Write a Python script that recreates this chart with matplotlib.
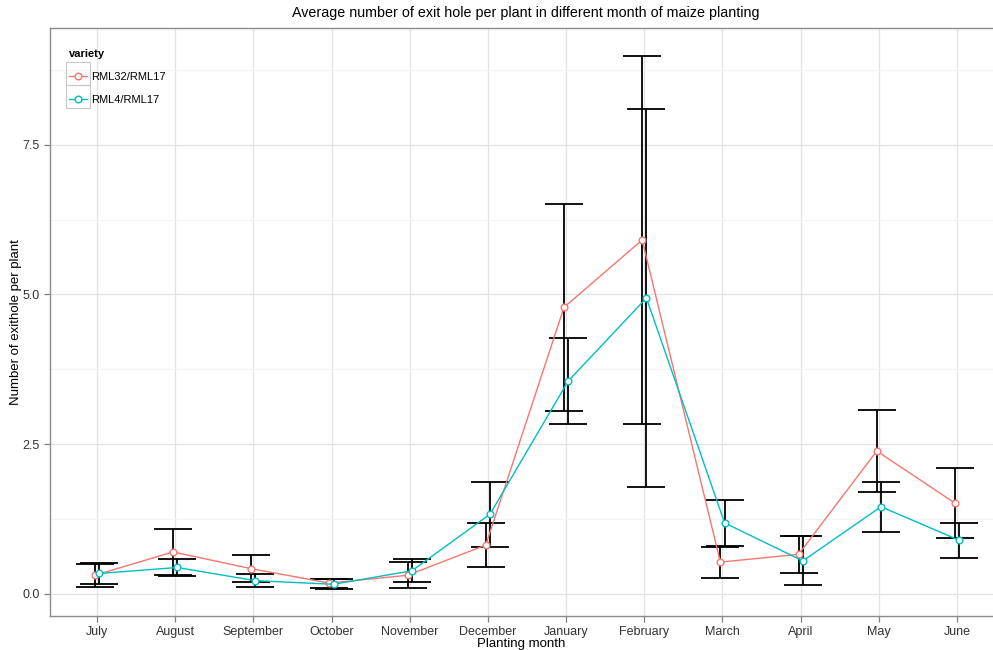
"""Average exit holes per plant by planting month (two maize varieties)"""

import numpy as np
import matplotlib
matplotlib.use("Agg")
import matplotlib.pyplot as plt
from matplotlib.patches import Rectangle

plt.rcParams['font.family'] = ['Liberation Sans', 'DejaVu Sans']

months = ["July", "August", "September", "October", "November", "December",
          "January", "February", "March", "April", "May", "June"]

# RML32/RML17
rml32_mean = [0.31, 0.70, 0.42, 0.18, 0.31, 0.815, 4.785, 5.91, 0.53, 0.66, 2.385, 1.515]
rml32_se = [0.19, 0.39, 0.23, 0.075, 0.22, 0.365, 1.725, 3.07, 0.26, 0.31, 0.685, 0.59]

# RML4/RML17
rml4_mean = [0.34, 0.44, 0.22, 0.16, 0.385, 1.33, 3.555, 4.94, 1.185, 0.55, 1.455, 0.895]
rml4_se = [0.17, 0.14, 0.11, 0.083, 0.19, 0.54, 0.715, 3.15, 0.385, 0.41, 0.415, 0.295]

RED = "#F8766D"
CYAN = "#00BFC4"
DODGE = 0.027

fig = plt.figure(figsize=(9.93, 6.5), dpi=100)
ax = fig.add_axes([50 / 993, 1 - 616 / 650, (1004 - 50) / 993, (616 - 28) / 650])

x = np.arange(len(months))

for mean, se, color, label, shift in [(rml32_mean, rml32_se, RED, "RML32/RML17", -DODGE),
                                      (rml4_mean, rml4_se, CYAN, "RML4/RML17", DODGE)]:
    xs = x + shift
    ax.errorbar(xs, mean, yerr=se, fmt='none', ecolor='black', elinewidth=1.3,
                capsize=14, capthick=1.3, zorder=2)
    ax.plot(xs, mean, color=color, lw=1.0, marker='o', markersize=4.8,
            markerfacecolor='white', markeredgecolor=color, markeredgewidth=1.0,
            label=label, zorder=4)

ax.set_xlim(-0.6, len(months) - 0.4)
ax.set_ylim(-0.37, 9.45)
ax.set_xticks(x)
ax.set_xticklabels(months)
ax.set_yticks([0, 2.5, 5.0, 7.5])
ax.set_yticklabels(["0.0", "2.5", "5.0", "7.5"])
ax.set_yticks([1.25, 3.75, 6.25, 8.75], minor=True)

ax.grid(True, which='major', color='#E3E3E3', lw=0.9, zorder=0)
ax.grid(True, which='minor', axis='y', color='#F4F4F4', lw=0.9, zorder=0)
ax.set_axisbelow(True)

for spine in ax.spines.values():
    spine.set_color('#8C8C8C')
    spine.set_linewidth(1.0)
ax.tick_params(axis='both', which='major', colors='#7F7F7F', labelcolor='#333333',
               labelsize=9, length=4, width=0.9)
ax.tick_params(axis='y', which='minor', length=0)

ax.set_title("Average number of exit hole per plant in different month of maize planting",
             fontsize=10.3, pad=8, x=(526 - 50) / (1004 - 50))
ax.set_xlabel("Planting month", fontsize=9.5)
ax.set_ylabel("Number of exithole per plant", fontsize=9.5)
ax.xaxis.set_label_coords((521 - 50) / (1004 - 50), -0.037)
ax.yaxis.set_label_coords((22 - 50) / (1004 - 50), 0.5)

leg = ax.legend(title="variety", loc='upper left', bbox_to_anchor=(0.007, 0.985),
                frameon=False, fontsize=8, title_fontsize=8, handlelength=1.6,
                labelspacing=1.15, handletextpad=0.4, borderpad=0.6)
leg.get_title().set_fontweight('bold')
leg._legend_box.align = "left"

# grey key boxes like the ggplot legend
for top in (62, 85):
    fig.add_artist(Rectangle((66 / 993, 1 - (top + 23) / 650), 24 / 993, 23 / 650,
                             transform=fig.transFigure, fill=False,
                             edgecolor='#C8C8C8', lw=0.8))

fig.savefig("out.png", dpi=100)
